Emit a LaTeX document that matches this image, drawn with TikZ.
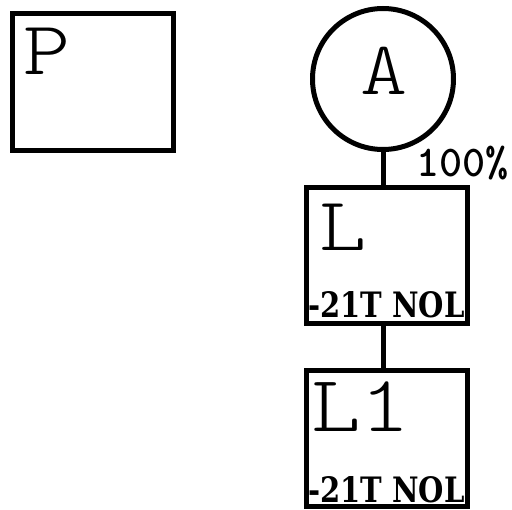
\documentclass[tikz,border=0pt]{standalone}
\usepackage{fontspec}
\usepackage{graphicx}
\newfontfamily\thinmono{lmmonolt10-regular}[Extension=.otf, FakeStretch=1.18]
\newfontfamily\boldmono{lmmonolt10-bold}[Extension=.otf]
\newfontfamily\slabfont{DejaVu Serif}
\tikzset{
  frame/.style={draw, line width=5pt, inner sep=0pt,
    minimum width=161pt, minimum height=136pt},
  tag/.style={anchor=base west, inner sep=0pt,
    font=\fontsize{76}{76}\selectfont\thinmono},
  code/.style={anchor=base west, inner sep=0pt,
    font=\fontsize{35}{35}\selectfont\slabfont\bfseries},
}
\newcommand{\nolcode}{\scalebox{0.83}[1]{-21T NOL}}

\begin{document}
\begin{tikzpicture}[x=1pt, y=-1pt]
    \useasboundingbox (0,0) rectangle (512,510);

    \node[frame, minimum height=137pt] (p) at (93,82) {};
    \node[tag] at (23,75) {P};

    \node[draw, circle, line width=5pt, inner sep=0pt, minimum size=141pt] (a) at (383,79) {};
    \node[tag, anchor=base] at (384,95) {A};

    \node[frame] (l) at (387,256) {};
    \node[tag] at (319,251) {L};
    \node[code] at (308,318) {\nolcode};

    \node[frame] (l1) at (387,439) {};
    \node[tag, font=\fontsize{80}{80}\selectfont\thinmono] at (311,432) {L1};
    \node[code] at (308,503) {\nolcode};

    \draw[line width=5pt] (a.south) -- (a.south |- l.north);
    \draw[line width=5pt] (l.south -| a.south) -- (l1.north -| a.south);
    \node[anchor=base west, inner sep=0pt, font=\fontsize{44}{44}\selectfont\boldmono] at (416,177) {100\%};
\end{tikzpicture}
\end{document}
